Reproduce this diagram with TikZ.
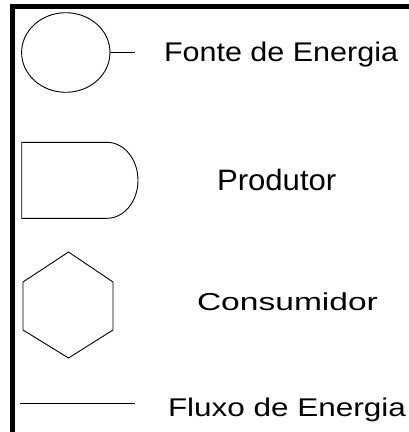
\documentclass[tikz,border=0pt]{standalone}
\usepackage{fontspec}
\setmainfont{Liberation Sans}
\begin{document}
\begin{tikzpicture}[x=1pt,y=-1pt,
  shapeline/.style={draw=black,line width=0.9pt},
  framebar/.style={draw=black,line width=5pt},
  legendtext/.style={anchor=base west,inner sep=0pt,outer sep=0pt,text=black}]
\useasboundingbox (0,0) rectangle (409,432);
% frame
\draw[framebar] (12.6,432) -- (12.6,6.5) -- (409,6.5);
% energy source
\draw[shapeline] (65.8,52.5) ellipse[x radius=44.2, y radius=39.8];
\coordinate (srcR) at (110,52.5);
\coordinate (srcE) at (135,52.5);
\draw[shapeline] (srcR) -- (srcE);
\node[legendtext] (fonte) at (164,61.7) {\fontsize{27}{30}\selectfont\scalebox{1.13}[1]{Fonte de Energia}};
% producer
\draw[shapeline] (21.7,142.3) -- (107,142.3) arc[start angle=-90,end angle=90,x radius=31,y radius=38] -- (21.7,218.3) -- cycle;
\node[legendtext] (produtor) at (217,190.7) {\fontsize{29.5}{32}\selectfont\scalebox{1.055}[1]{Produtor}};
% consumer
\draw[shapeline] (68.5,252) -- (113,282) -- (113,330) -- (68.5,358) -- (23,330) -- (23,282) -- cycle;
\node[legendtext] (consumidor) at (197,310) {\fontsize{24.5}{28}\selectfont\scalebox{1.37}[1]{Consumidor}};
% energy flow
\coordinate (flowA) at (19.5,403.5);
\coordinate (flowB) at (135,403.5);
\draw[shapeline] (flowA) -- (flowB);
\node[legendtext] (fluxo) at (168,416.7) {\fontsize{25.6}{28}\selectfont\scalebox{1.23}[1]{Fluxo de Energia}};
\end{tikzpicture}
\end{document}
